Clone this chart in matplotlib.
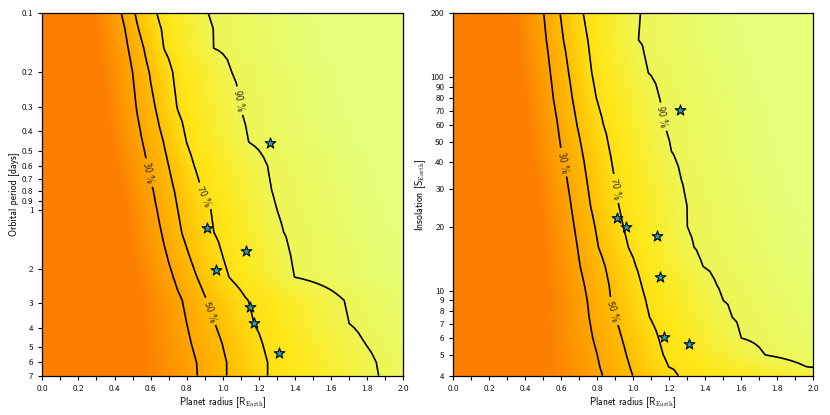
import matplotlib
matplotlib.use('Agg')
import matplotlib.pyplot as plt
import numpy as np
from matplotlib.ticker import MultipleLocator, NullLocator

plt.rcParams['font.family'] = ['cmss10', 'DejaVu Sans']
plt.rcParams['mathtext.fontset'] = 'cm'
plt.rcParams['axes.unicode_minus'] = False

# completeness levels used for the contour lines
levels = [0.3, 0.5, 0.7, 0.9]
level_names = ['30 %', '50 %', '70 %', '90 %']

# left panel: orbital period rows and radius (R_Earth) where completeness reaches each level
period_rows = [0.1, 0.12, 0.15, 0.2, 0.3, 0.45, 0.6, 0.8, 1.0, 1.3, 1.7, 2.2, 2.9, 3.8, 4.8, 6.0, 7.0]
p_r0   = [0.28, 0.30, 0.305, 0.33, 0.35, 0.375, 0.405, 0.435, 0.455, 0.47, 0.49, 0.515, 0.545, 0.55, 0.555, 0.565, 0.56]
p_r30  = [0.44, 0.46, 0.475, 0.50, 0.52, 0.555, 0.585, 0.615, 0.635, 0.66, 0.69, 0.725, 0.775, 0.80, 0.825, 0.855, 0.86]
p_r50  = [0.51, 0.53, 0.56, 0.59, 0.625, 0.67, 0.70, 0.73, 0.75, 0.77, 0.81, 0.855, 0.91, 0.955, 0.995, 1.02, 1.02]
p_r70  = [0.63, 0.655, 0.67, 0.72, 0.74, 0.795, 0.835, 0.88, 0.93, 0.95, 0.995, 1.03, 1.135, 1.17, 1.215, 1.245, 1.245]
p_r90  = [0.91, 0.94, 0.945, 1.05, 1.095, 1.135, 1.245, 1.265, 1.30, 1.33, 1.375, 1.39, 1.67, 1.70, 1.785, 1.85, 1.86]
p_r100 = [1.55, 1.58, 1.6, 1.65, 1.7, 1.75, 1.85, 1.9, 1.95, 2.0, 2.05, 2.1, 2.2, 2.25, 2.3, 2.35, 2.35]

# right panel: insolation rows
insol_rows = [4, 4.4, 5, 6, 7.5, 9, 10.5, 13, 16, 20, 25, 33, 45, 60, 80, 105, 150, 200]
s_r0   = [0.53, 0.525, 0.52, 0.515, 0.515, 0.525, 0.52, 0.505, 0.50, 0.49, 0.475, 0.463, 0.43, 0.41, 0.396, 0.38, 0.358, 0.343]
s_r30  = [0.83, 0.815, 0.80, 0.775, 0.755, 0.745, 0.73, 0.705, 0.69, 0.672, 0.655, 0.633, 0.60, 0.58, 0.556, 0.54, 0.518, 0.503]
s_r50  = [0.995, 0.98, 0.96, 0.935, 0.90, 0.875, 0.865, 0.843, 0.805, 0.785, 0.76, 0.74, 0.715, 0.685, 0.66, 0.64, 0.61, 0.592]
s_r70  = [1.25, 1.19, 1.16, 1.135, 1.085, 1.065, 1.045, 1.01, 0.97, 0.94, 0.915, 0.893, 0.865, 0.83, 0.79, 0.765, 0.745, 0.718]
s_r90  = [2.5, 1.96, 1.73, 1.60, 1.55, 1.50, 1.46, 1.38, 1.33, 1.30, 1.295, 1.26, 1.205, 1.17, 1.14, 1.078, 1.026, 1.032]
s_r100 = [3.0, 2.6, 2.4, 2.3, 2.25, 2.2, 2.15, 2.1, 2.05, 2.0, 1.95, 1.9, 1.85, 1.8, 1.75, 1.7, 1.65, 1.6]

# planets
planet_radius = [1.26, 0.91, 1.13, 0.96, 1.15, 1.17, 1.31]
planet_period = [0.46, 1.24, 1.62, 2.03, 3.12, 3.79, 5.35]
planet_insol = [70.4, 21.9, 18.1, 19.9, 11.6, 6.05, 5.63]

period_ticks = [0.1, 0.2, 0.3, 0.4, 0.5, 0.6, 0.7, 0.8, 0.9, 1, 2, 3, 4, 5, 6, 7]
period_labels = ['0.1', '0.2', '0.3', '0.4', '0.5', '0.6', '0.7', '0.8', '0.9',
                 '1', '2', '3', '4', '5', '6', '7']
insol_ticks = [4, 5, 6, 7, 8, 9, 10, 20, 30, 40, 50, 60, 70, 80, 90, 100, 200]
insol_labels = [str(t) for t in insol_ticks]

radius_grid = np.linspace(0, 2, 81)


def build_grid(anchors):
    comp = []
    for row in zip(*anchors):
        comp.append(np.interp(radius_grid, row, [0, 0.3, 0.5, 0.7, 0.9, 1.0]))
    return np.array(comp)


fig = plt.figure(figsize=(8.3, 4.15), dpi=100)
ax1 = fig.add_axes([0.051, 0.095, 0.435, 0.873])
ax2 = fig.add_axes([0.546, 0.095, 0.434, 0.873])

panels = [
    (ax1, period_rows, [p_r0, p_r30, p_r50, p_r70, p_r90, p_r100], planet_period,
     (7, 0.1), period_ticks, period_labels, 'Orbital period [days]',
     [(0.58, 0.65), (0.93, 3.3), (0.90, 0.85), (1.07, 0.28)]),
    (ax2, insol_rows, [s_r0, s_r30, s_r50, s_r70, s_r90, s_r100], planet_insol,
     (4, 200), insol_ticks, insol_labels, r'Insolation [S$_\mathrm{Earth}$]',
     [(0.615, 40), (0.89, 8), (0.90, 30), (1.15, 65)]),
]

for ax, rows, anchors, py, ylim, ticks, labels, ylabel, label_pos in panels:
    comp = build_grid(anchors)
    ax.set_yscale('log')
    ax.set_xlim(0, 2)
    ax.set_ylim(*ylim)
    ax.pcolormesh(radius_grid, rows, comp, cmap='Wistia_r', vmin=0, vmax=1,
                  shading='gouraud', rasterized=True)
    cs = ax.contour(radius_grid, rows, comp, levels=levels, colors='k', linewidths=1.2)
    ax.clabel(cs, fmt=dict(zip(levels, level_names)), fontsize=7, colors='#222222',
              manual=label_pos, inline=True, inline_spacing=4)
    ax.scatter(planet_radius, py, marker='*', s=65, facecolor='#1ba3c6',
               edgecolor='k', linewidth=0.8, zorder=4)
    ax.set_yticks(ticks)
    ax.set_yticklabels(labels)
    ax.yaxis.set_minor_locator(NullLocator())
    ax.xaxis.set_minor_locator(MultipleLocator(0.1))
    ax.set_xticks(np.arange(0, 2.01, 0.2))
    ax.set_xticklabels(['%.1f' % v for v in np.arange(0, 2.01, 0.2)])
    ax.tick_params(which='both', labelsize=6.5, length=3, width=0.8)
    ax.set_xlabel(r'Planet radius [R$_\mathrm{Earth}$]', fontsize=7, labelpad=2)
    ax.set_ylabel(ylabel, fontsize=7, labelpad=2)
    for sp in ax.spines.values():
        sp.set_linewidth(0.9)

fig.savefig('out.png', dpi=100)
